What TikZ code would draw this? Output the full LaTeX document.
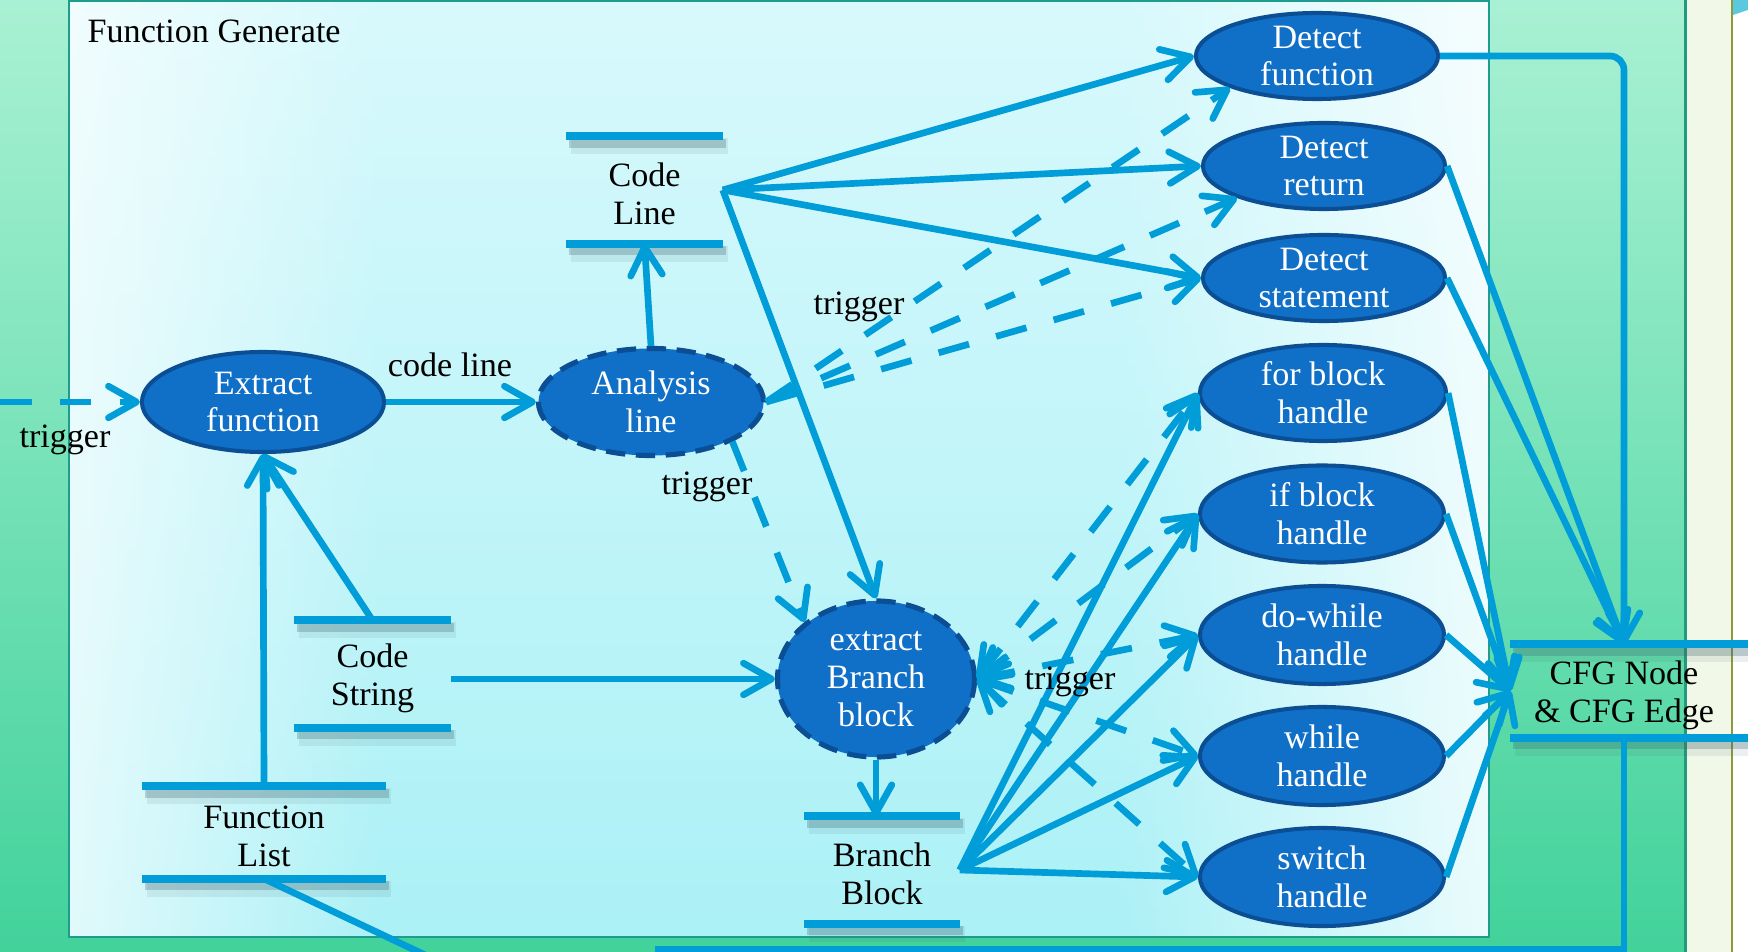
\documentclass[tikz,border=0pt]{standalone}
\usepackage{fontspec}
\setmainfont{Liberation Serif}
\usetikzlibrary{shapes.geometric, arrows.meta, fadings, calc}

\definecolor{linec}{HTML}{009DD9}
\definecolor{ellfill}{HTML}{1070C8}
\definecolor{ellborder}{HTML}{0B4E93}
\definecolor{gtop}{HTML}{A9F1D4}
\definecolor{gbot}{HTML}{42D29A}
\definecolor{ptop}{HTML}{D8F9FC}
\definecolor{pbot}{HTML}{ABF1F6}
\definecolor{pedge}{HTML}{1E9C8E}
\definecolor{cream}{HTML}{F2F8E7}
\definecolor{olive}{HTML}{8C9A3C}
\definecolor{sepgreen}{HTML}{229B7A}
\definecolor{shadowc}{HTML}{3E6470}
\definecolor{cornercyan}{HTML}{5BC8E0}

\newcommand\dgfont{\fontsize{9.7pt}{10.8pt}\selectfont}

\tikzfading[name=fadefromleft, left color=transparent!35, right color=transparent!100]
\tikzfading[name=fadetoright, left color=transparent!100, right color=transparent!25]

\tikzset{
  >={Straight Barb[length=8pt,width=9pt,round]},
  proc/.style={ellipse, draw=ellborder, line width=1.15pt, fill=ellfill, inner sep=0pt},
  procdash/.style={proc, line width=1.45pt, dash pattern=on 5.5pt off 3pt},
  ptxt/.style={text=white, align=center, font=\dgfont, inner sep=0pt},
  store/.style={inner sep=0pt},
  stxt/.style={align=center, font=\dgfont, inner sep=0pt, yshift=-1.2pt},
  storeline/.style={draw=linec, line width=2.3pt},
  storeshadow/.style={draw=shadowc, line width=2.6pt, opacity=0.28},
  storehaze/.style={draw=shadowc, line width=4.5pt, opacity=0.10},
  sline/.style={draw=linec, line width=1.9pt},
  conn/.style={sline, ->},
  dconn/.style={conn, dash pattern=on 9pt off 8pt},
  lbl/.style={font=\dgfont, text=black, inner sep=0pt}
}

\begin{document}
\begin{tikzpicture}[x=0.01cm, y=-0.01cm]
\useasboundingbox (0,0) rectangle (1748,952);

% slide background
\shade[top color=gtop, bottom color=gbot] (0,0) rectangle (1686,952);
\fill[cream] (1686,0) rectangle (1732,952);
\fill[white!97!cream] (1733,0) rectangle (1748,952);
\fill[cornercyan] (1733,0) -- (1748,0) -- (1748,10) -- (1733,15) -- cycle;
\draw[sepgreen, line width=0.9pt] (1685.5,0) -- (1685.5,952);
\draw[olive, line width=0.8pt] (1732,0) -- (1732,952);

% content panel
\shade[top color=ptop, bottom color=pbot] (69,1) rectangle (1489,937);
\fill[white, path fading=fadefromleft] (69,1) rectangle (380,937);
\fill[white, path fading=fadetoright] (1120,1) rectangle (1489,937);
\draw[pedge, line width=0.7pt] (69,1) rectangle (1489,937);
\node[lbl, anchor=west] (title) at (87,31) {Function Generate};

% processes
\node[proc, minimum width=2.42cm, minimum height=1.00cm,
      label={[ptxt]center:Extract\\function}] (ef) at (263,402) {};
\node[procdash, minimum width=2.25cm, minimum height=1.07cm,
      label={[ptxt]center:Analysis\\line}] (al) at (651,402) {};
\node[procdash, minimum width=1.97cm, minimum height=1.56cm,
      label={[ptxt]center:extract\\Branch\\block}] (eb) at (876,679) {};
\node[proc, minimum width=2.42cm, minimum height=0.86cm,
      label={[ptxt]center:Detect\\function}] (df) at (1317,56) {};
\node[proc, minimum width=2.42cm, minimum height=0.86cm,
      label={[ptxt]center:Detect\\return}] (dr) at (1324,166) {};
\node[proc, minimum width=2.42cm, minimum height=0.86cm,
      label={[ptxt]center:Detect\\statement}] (ds) at (1324,278) {};
\node[proc, minimum width=2.46cm, minimum height=0.96cm,
      label={[ptxt]center:for block\\handle}] (fb) at (1323,393) {};
\node[proc, minimum width=2.44cm, minimum height=0.97cm,
      label={[ptxt]center:if block\\handle}] (ib) at (1322,514) {};
\node[proc, minimum width=2.44cm, minimum height=0.98cm,
      label={[ptxt]center:do-while\\handle}] (dw) at (1322,635) {};
\node[proc, minimum width=2.44cm, minimum height=0.98cm,
      label={[ptxt]center:while\\handle}] (wh) at (1322,756) {};
\node[proc, minimum width=2.44cm, minimum height=0.98cm,
      label={[ptxt]center:switch\\handle}] (sw) at (1322,877) {};

% data stores
\node[store, minimum width=1.55cm, minimum height=1.06cm,
      label={[stxt]center:Code\\Line}] (cl) at (644.5,190) {};
\node[store, minimum width=1.55cm, minimum height=1.06cm,
      label={[stxt]center:Code\\String}] (cs) at (372.5,674) {};
\node[store, minimum width=2.42cm, minimum height=0.91cm,
      label={[stxt]center:Function\\List}] (fl) at (264,832.5) {};
\node[store, minimum width=1.54cm, minimum height=1.06cm,
      label={[stxt]center:Branch\\Block}] (bb) at (882,870) {};
\node[store, minimum width=2.26cm, minimum height=0.92cm,
      label={[stxt]center:CFG Node\\\& CFG Edge}] (cfg) at (1624,691) {};

\foreach \s in {cl,cs,fl,bb} {
  \foreach \a/\b in {north west/north east, south west/south east} {
    \draw[storehaze] ($(\s.\a)+(5,10)$) -- ($(\s.\b)+(5,10)$);
    \draw[storeshadow] ($(\s.\a)+(3,7)$) -- ($(\s.\b)+(3,7)$);
    \draw[storeline] (\s.\a) -- (\s.\b);
  }
}
\foreach \a/\b in {north west/north east, south west/south east} {
  \draw[storehaze] ($(cfg.\a)+(5,10)$) -- ($(cfg.\b)+(45,10)$);
  \draw[storeshadow] ($(cfg.\a)+(3,7)$) -- ($(cfg.\b)+(43,7)$);
  \draw[storeline] (cfg.\a) -- ($(cfg.\b)+(40,0)$);
}

% free ends
\coordinate (tin) at (0,402);
\coordinate (loopend) at (655,949);
\coordinate (flout) at (440,962);

% connectors
\draw[dconn] (tin) -- (ef.west);
\draw[conn] (ef.east) -- (al.west);
\draw[conn] (al.north) -- (cl.south);
\draw[conn] (cs.north) -- (ef.south);
\draw[conn] (fl.north) -- (ef.south);
\draw[conn] (cs.east |- eb.west) -- (eb.west);

\foreach \t in {df.west, dr.west, ds.west, eb.north}
  \draw[conn] (cl.east) -- (\t);
\foreach \t in {df.south west, dr.south west, ds.west}
  \draw[dconn] (al.east) -- (\t);
\draw[dconn] (al.south east) -- (eb.north west);
\draw[conn] (eb.south) -- (eb.south |- bb.north);

\foreach \t in {fb,ib,dw,wh,sw} {
  \draw[conn] (bb.east) -- (\t.west);
  \draw[dconn, <->] (eb.east) -- (\t.west);
}

\draw[conn, rounded corners=4pt] (df.east) -| (cfg.north);
\draw[conn] (dr.east) -- (cfg.north);
\draw[conn] (ds.east) -- (cfg.north);
\foreach \t in {fb,ib,dw,wh,sw}
  \draw[conn] (\t.east) -- (cfg.west);

\draw[sline] (cfg.south) |- (loopend);
\draw[sline] (fl.south) -- (flout);

% connector labels
\node[lbl] (t1) at (65,440) {trigger};
\node[lbl] (t2) at (450,365) {code line};
\node[lbl] (t3) at (859,307) {trigger};
\node[lbl] (t4) at (707,487) {trigger};
\node[lbl] (t5) at (1070,682) {trigger};
\end{tikzpicture}
\end{document}
